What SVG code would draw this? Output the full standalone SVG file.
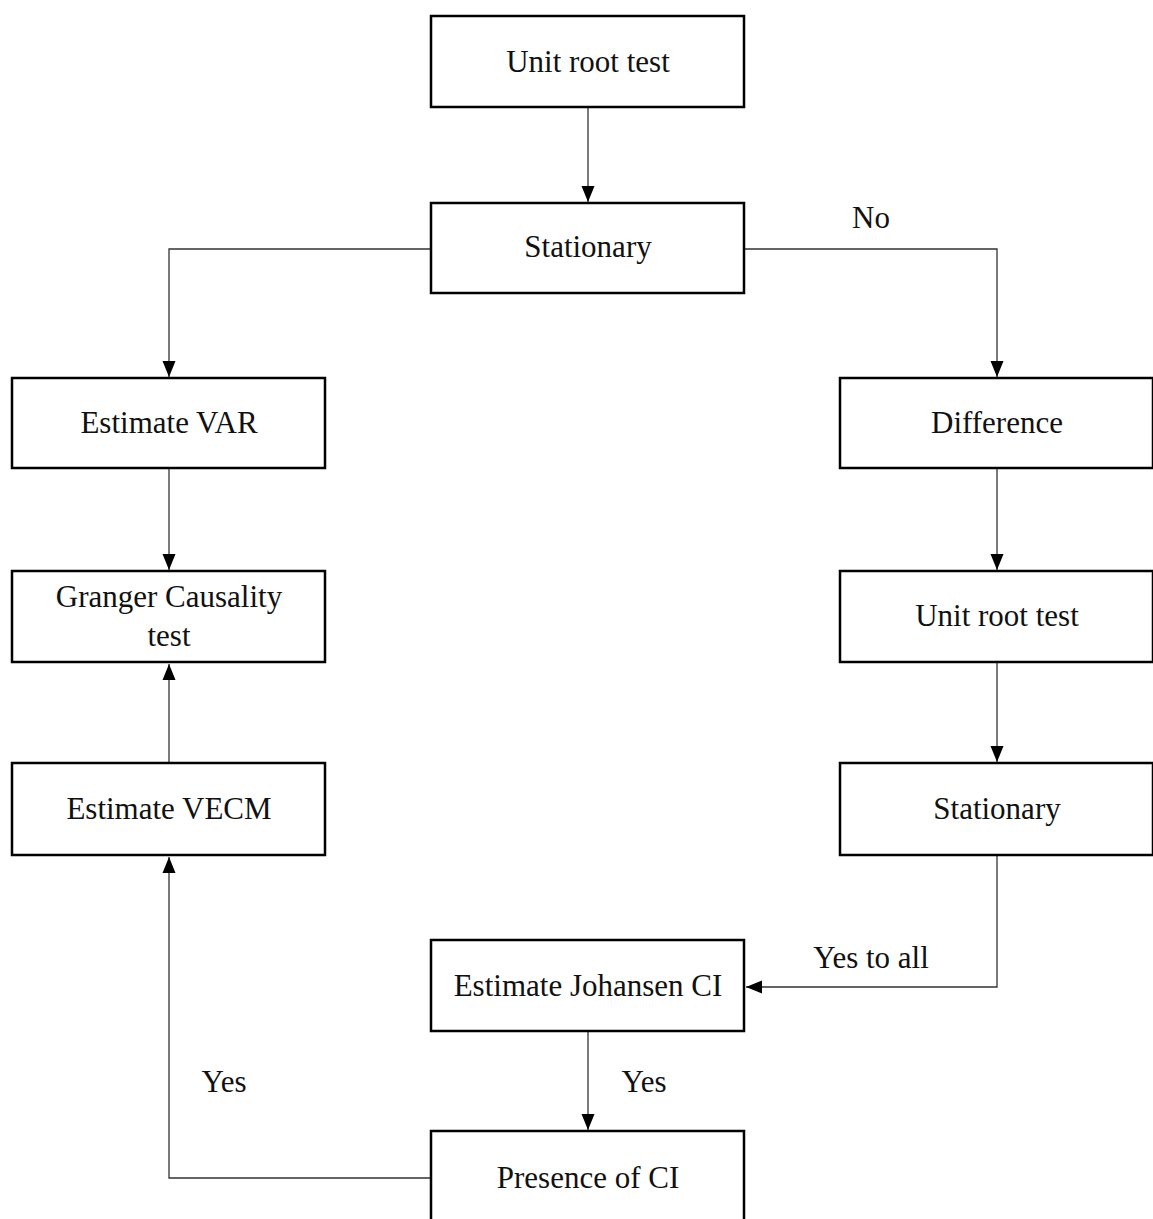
<svg xmlns="http://www.w3.org/2000/svg" width="1153" height="1219" viewBox="0 0 1153 1219">
<style>
.box{fill:#fff;stroke:#000;stroke-width:2.5}
.t{font-family:"Liberation Serif","Times New Roman",serif;font-size:31px;fill:#111;text-anchor:middle}
.c{fill:none;stroke:#333;stroke-width:1.3}
</style>
<defs>
<marker id="ah" markerWidth="16" markerHeight="14" refX="16" refY="7" orient="auto" markerUnits="userSpaceOnUse">
<path d="M0,0.5 L16,7 L0,13.5 Z" fill="#000"/>
</marker>
</defs>
<rect width="1153" height="1219" fill="#fff"/>
<g id="connectors">
<path class="c" d="M588,108 V202" marker-end="url(#ah)"/>
<path class="c" d="M431,249 H169 V377" marker-end="url(#ah)"/>
<path class="c" d="M745,249 H997 V377" marker-end="url(#ah)"/>
<path class="c" d="M169,469 V570" marker-end="url(#ah)"/>
<path class="c" d="M169,763 V664" marker-end="url(#ah)"/>
<path class="c" d="M997,469 V570" marker-end="url(#ah)"/>
<path class="c" d="M997,663 V762" marker-end="url(#ah)"/>
<path class="c" d="M997,856 V987 H746" marker-end="url(#ah)"/>
<path class="c" d="M588,1032 V1130" marker-end="url(#ah)"/>
<path class="c" d="M431,1178 H169 V857" marker-end="url(#ah)"/>
<text class="t" x="871" y="228">No</text>
<text class="t" x="871" y="968">Yes to all</text>
<text class="t" x="644" y="1092">Yes</text>
<text class="t" x="224" y="1092">Yes</text>
</g>
<g id="n1"><rect class="box" x="431" y="16" width="313" height="91"/><text class="t" x="588" y="72">Unit root test</text></g>
<g id="n2"><rect class="box" x="431" y="203" width="313" height="90"/><text class="t" x="588" y="257">Stationary</text></g>
<g id="n3"><rect class="box" x="12" y="378" width="313" height="90"/><text class="t" x="169" y="433">Estimate VAR</text></g>
<g id="n4"><rect class="box" x="12" y="571" width="313" height="91"/><text class="t" x="169" y="607">Granger Causality</text><text class="t" x="169" y="646">test</text></g>
<g id="n5"><rect class="box" x="12" y="763" width="313" height="92"/><text class="t" x="169" y="819">Estimate VECM</text></g>
<g id="n6"><rect class="box" x="840" y="378" width="313" height="90"/><text class="t" x="997" y="433">Difference</text></g>
<g id="n7"><rect class="box" x="840" y="571" width="313" height="91"/><text class="t" x="997" y="626">Unit root test</text></g>
<g id="n8"><rect class="box" x="840" y="763" width="313" height="92"/><text class="t" x="997" y="819">Stationary</text></g>
<g id="n9"><rect class="box" x="431" y="940" width="313" height="91"/><text class="t" x="588" y="996">Estimate Johansen CI</text></g>
<g id="n10"><rect class="box" x="431" y="1131" width="313" height="100"/><text class="t" x="588" y="1188">Presence of CI</text></g>
</svg>
